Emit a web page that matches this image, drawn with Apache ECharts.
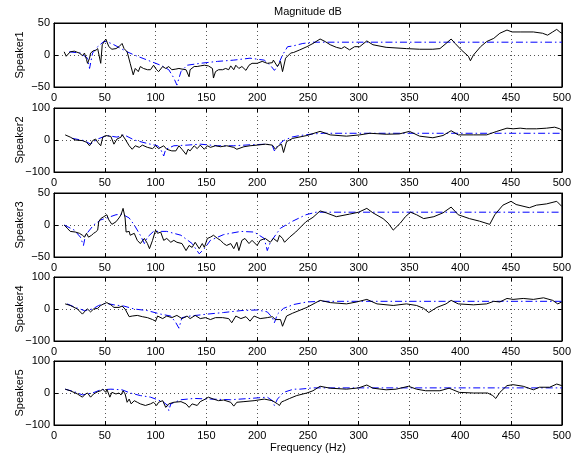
<!DOCTYPE html>
<html>
<head>
<meta charset="utf-8">
<script src="https://cdn.jsdelivr.net/npm/echarts@6/dist/echarts.min.js"></script>
<style>
  html, body { margin: 0; padding: 0; background: #fff; }
  #main { width: 574px; height: 459px; }
</style>
</head>
<body>
<div id="main"></div>
<script>
// 数据: [频率 Hz, 幅值 dB]
var speakerNames = ['Speaker1', 'Speaker2', 'Speaker3', 'Speaker4', 'Speaker5'];
var yMins = [-50, -100, -50, -100, -100];
var yMaxs = [50, 100, 50, 100, 100];
var yIntervals = [50, 100, 50, 100, 100];

var speaker1Meas = [[10,5],[12,-2],[16,5],[20,6],[25,3],[28,-1],[30,3],[32,-7],[33,-13],[35,-5],[36,3],[39,7],[41,7],[43,10],[44,13],[46,-13],[47.5,16],[51,25],[52,23],[54,13],[57,9],[61,10],[64,13],[67,18],[69,10],[72,5],[75,-13],[78,-31],[80,-21],[83,-26],[85,-18],[88,-21],[92,-23],[95,-23],[98,-16],[101,-23],[103,-26],[107,-18],[110,-21],[113,-18],[116,-23],[120,-22],[123,-21],[126,-22],[130,-23],[133,-34],[134,-23],[138,-18],[141,-18],[144,-17],[148,-16],[152,-17],[156,-21],[157,-36],[159,-26],[162,-23],[166,-23],[169,-21],[172,-23],[174,-17],[177,-23],[179,-16],[182,-21],[185,-18],[189,-24],[192,-16],[195,-13],[200,-13],[205,-10],[210,-13],[215,-12],[216,-8],[220,-18],[223,-10],[225,-26],[228,-5],[233,3],[236,4],[242,8],[249,13],[255,18],[262,25],[267,21],[272,16],[278,12],[283,10],[286,13],[291,8],[296,13],[301,13],[308,22],[314,16],[327,12],[347,10],[360,9],[373,9],[380,10],[386,18],[391,25],[395,18],[401,8],[408,-2],[410,-9],[413,0],[420,13],[426,21],[433,26],[439,34],[446,39],[451,36],[459,36],[472,36],[481,34],[486,31],[491,36],[495,40],[498,36],[500,34]];
var speaker1Fit = [[15,5],[26,3],[33,-5],[35,-21],[38,3],[43,13],[49,21],[52,21],[59,16],[66,10],[72,5],[79,0],[92,-8],[105,-16],[113,-23],[118,-36],[121,-47],[125,-26],[131,-16],[144,-13],[161,-10],[177,-8],[193,-5],[207,-8],[213,-16],[217,-24],[220,-18],[225,0],[230,13],[235,14],[240,16],[245,18],[255,20],[500,20]];

var speaker2Meas = [[11,16],[16,9],[21,0],[28,-2],[32,-7],[35,-18],[38,-2],[41,3],[43,-7],[46,-18],[48,9],[51,14],[56,11],[59,-13],[62,3],[66,9],[67,17],[70,3],[74,-18],[77,-29],[80,-18],[84,-23],[87,-16],[92,-23],[97,-27],[100,-18],[103,-27],[108,-18],[111,-29],[116,-34],[120,-34],[123,-18],[126,-29],[130,-45],[132,-29],[134,-34],[138,-18],[141,-27],[144,-16],[148,-29],[151,-18],[154,-23],[159,-18],[164,-21],[170,-18],[177,-23],[180,-29],[187,-21],[193,-18],[200,-16],[208,-13],[215,-16],[218,-29],[221,-18],[224,-13],[226,-39],[229,-5],[235,5],[249,14],[262,27],[272,16],[288,12],[301,16],[311,21],[327,18],[340,19],[350,27],[360,12],[373,7],[383,14],[391,29],[398,16],[413,16],[426,16],[436,27],[446,37],[452,35],[459,37],[465,35],[475,35],[485,37],[493,40],[498,35],[500,30]];
var speaker2Fit = [[18,5],[30,-2],[36,-13],[43,3],[52,14],[62,9],[69,16],[79,0],[92,-11],[102,-18],[105,-29],[108,-50],[110,-29],[118,-18],[131,-16],[144,-13],[161,-18],[177,-18],[193,-15],[210,-13],[215,-18],[217,-34],[220,-18],[226,-2],[234,9],[242,14],[255,19],[265,21],[500,21]];

var speaker3Meas = [[10,0],[13,-5],[16,-10],[21,-11],[25,-13],[28,-16],[30,-19],[32,-13],[34,-19],[37,-16],[39,-13],[41,-11],[43,-8],[44,5],[46,10],[49,13],[52,16],[54,8],[57,1],[61,5],[64,11],[66,16],[68,26],[70,11],[71,-11],[74,-10],[75,-16],[79,-13],[82,-24],[85,-29],[89,-21],[92,-29],[94,-37],[97,-24],[100,-8],[102,-13],[105,-11],[108,-24],[111,-21],[115,-27],[118,-24],[121,-27],[126,-29],[130,-40],[133,-32],[136,-35],[139,-27],[143,-37],[146,-29],[148,-35],[151,-21],[154,-19],[157,-16],[161,-21],[164,-24],[167,-29],[170,-32],[174,-29],[177,-37],[180,-27],[182,-40],[185,-24],[188,-21],[192,-29],[195,-24],[200,-32],[203,-24],[208,-21],[213,-27],[216,-21],[220,-26],[222,-16],[225,-21],[227,-27],[232,-19],[238,-11],[248,5],[255,12],[262,22],[268,19],[278,13],[291,17],[300,20],[308,26],[314,19],[324,10],[329,3],[334,-8],[341,3],[346,13],[351,20],[357,16],[364,10],[374,13],[383,19],[391,28],[398,16],[409,10],[419,6],[429,1],[434,16],[442,31],[450,37],[455,32],[468,27],[475,31],[485,33],[495,37],[500,29]];
var speaker3Fit = [[10,0],[20,-8],[26,-19],[29,-32],[31,-16],[39,0],[46,8],[52,11],[61,16],[67,17],[74,11],[79,0],[85,-16],[89,-29],[92,-19],[98,-10],[111,-10],[125,-16],[136,-29],[143,-45],[148,-37],[154,-24],[167,-15],[184,-10],[197,-11],[207,-21],[210,-40],[213,-27],[223,-5],[235,6],[248,16],[258,20],[500,20]];

var speaker4Meas = [[11,16],[16,11],[23,0],[28,-16],[31,-5],[33,0],[36,-9],[39,0],[43,2],[46,11],[49,16],[52,20],[56,13],[59,5],[64,5],[67,9],[70,0],[74,-24],[77,-22],[82,-20],[87,-24],[92,-27],[97,-33],[100,-38],[102,-22],[107,-30],[111,-22],[116,-27],[121,-20],[126,-30],[131,-22],[134,-30],[139,-20],[144,-30],[149,-27],[154,-33],[159,-27],[166,-27],[172,-30],[175,-43],[179,-22],[184,-30],[189,-24],[193,-38],[197,-22],[203,-30],[210,-27],[215,-24],[218,-33],[223,-33],[225,-54],[229,-22],[235,-13],[249,5],[262,27],[272,20],[288,16],[298,22],[308,30],[318,16],[334,11],[347,16],[357,11],[364,2],[369,-11],[377,5],[386,16],[391,27],[398,16],[413,13],[426,16],[433,24],[439,22],[446,33],[452,30],[462,33],[472,30],[482,35],[491,27],[496,16],[500,22]];
var speaker4Fit = [[13,16],[21,5],[30,-5],[38,0],[44,11],[51,18],[59,13],[69,9],[79,0],[92,-5],[105,-16],[115,-22],[120,-43],[123,-60],[126,-27],[134,-22],[151,-16],[167,-11],[184,-5],[200,-3],[210,-9],[215,-27],[217,-43],[220,-16],[226,2],[236,14],[249,22],[262,24],[500,24]];

var speaker5Meas = [[11,12],[16,7],[23,-3],[28,-13],[31,-3],[33,0],[36,-13],[39,-3],[43,4],[46,7],[48,12],[51,2],[52,12],[55,-13],[57,2],[61,-3],[64,0],[66,-6],[68,7],[70,-3],[72,-29],[74,-19],[76,-34],[79,-24],[82,-29],[85,-34],[90,-39],[95,-34],[98,-29],[101,-39],[103,-29],[107,-24],[110,-45],[113,-34],[118,-29],[125,-27],[130,-34],[133,-45],[136,-34],[141,-39],[144,-27],[149,-19],[152,-13],[157,-19],[162,-24],[167,-22],[174,-29],[177,-41],[180,-29],[187,-27],[197,-24],[207,-19],[215,-24],[220,-34],[222,-39],[224,-28],[227,-24],[232,-17],[239,-8],[249,0],[255,7],[262,21],[272,15],[288,12],[300,16],[308,25],[314,15],[327,10],[337,12],[349,21],[357,12],[366,7],[380,7],[389,15],[399,2],[413,0],[427,0],[432,-8],[435,-17],[439,2],[446,23],[452,26],[462,21],[472,10],[478,18],[488,18],[495,28],[500,23]];
var speaker5Fit = [[11,12],[20,4],[28,-6],[38,0],[46,10],[56,12],[67,10],[75,0],[85,-8],[95,-13],[102,-21],[108,-29],[112,-39],[113,-55],[115,-34],[125,-21],[138,-17],[154,-19],[174,-21],[193,-17],[210,-13],[215,-24],[217,-39],[220,-19],[226,2],[236,12],[242,12],[255,16],[500,16]];

var measData = [speaker1Meas, speaker2Meas, speaker3Meas, speaker4Meas, speaker5Meas];
var fitData = [speaker1Fit, speaker2Fit, speaker3Fit, speaker4Fit, speaker5Fit];

var myChart = echarts.init(document.getElementById('main'));

var font = 'Liberation Sans, Arial, sans-serif';
var tops = [23, 108, 193, 277, 361];
var minus = function (v) { return v < 0 ? '\u2212' + (-v) : String(v); };
var dotted = { show: true, lineStyle: { color: '#555', type: [1, 3], width: 1 } };
var tick = { show: true, inside: true, length: 4, lineStyle: { color: '#000' } };
var line = { show: true, onZero: false, lineStyle: { color: '#000', width: 1 } };

var grids = [], xAxes = [], yAxes = [], series = [];
for (var i = 0; i < 5; i++) {
    grids.push({ left: 54, right: 12, top: tops[i], height: 64, show: true, borderColor: '#000', borderWidth: 1 });
    // 下方x轴
    xAxes.push({
        type: 'value', gridIndex: i, min: 0, max: 500, interval: 50, position: 'bottom',
        axisLine: line, axisTick: tick, splitLine: dotted,
        axisLabel: { color: '#000', fontSize: 11, fontFamily: font, margin: 5 },
        name: i === 4 ? 'Frequency (Hz)' : '', nameLocation: 'middle', nameGap: 17, nameMoveOverlap: false,
        nameTextStyle: { color: '#000', fontSize: 11, fontFamily: font }
    });
    // 上方x轴 (只有刻度)
    xAxes.push({
        type: 'value', gridIndex: i, min: 0, max: 500, interval: 50, position: 'top',
        axisLine: line, axisTick: tick, splitLine: { show: false }, axisLabel: { show: false },
        name: i === 0 ? 'Magnitude dB' : '', nameLocation: 'middle', nameGap: 6,
        nameTextStyle: { color: '#000', fontSize: 11, fontFamily: font }
    });
    yAxes.push({
        type: 'value', gridIndex: i, min: yMins[i], max: yMaxs[i], interval: yIntervals[i], position: 'left',
        axisLine: line, axisTick: tick, splitLine: dotted,
        axisLabel: { color: '#000', fontSize: 11, fontFamily: font, margin: 4, formatter: minus },
        name: speakerNames[i], nameLocation: 'middle', nameGap: 29, nameMoveOverlap: false,
        nameTextStyle: { color: '#000', fontSize: 11, fontFamily: font }
    });
    yAxes.push({
        type: 'value', gridIndex: i, min: yMins[i], max: yMaxs[i], interval: yIntervals[i], position: 'right',
        axisLine: line, axisTick: tick, splitLine: { show: false }, axisLabel: { show: false }
    });
    series.push({
        type: 'line', xAxisIndex: 2 * i, yAxisIndex: 2 * i, data: measData[i],
        showSymbol: false, animation: false, z: 3,
        lineStyle: { color: '#000', width: 1 }
    });
    series.push({
        type: 'line', xAxisIndex: 2 * i, yAxisIndex: 2 * i, data: fitData[i],
        showSymbol: false, animation: false, z: 2,
        lineStyle: { color: '#0000ff', width: 1, type: [7, 3, 1.5, 3] }
    });
}

var option = {
    backgroundColor: '#fff',
    animation: false,
    grid: grids,
    xAxis: xAxes,
    yAxis: yAxes,
    series: series
};

myChart.setOption(option);
</script>
</body>
</html>
